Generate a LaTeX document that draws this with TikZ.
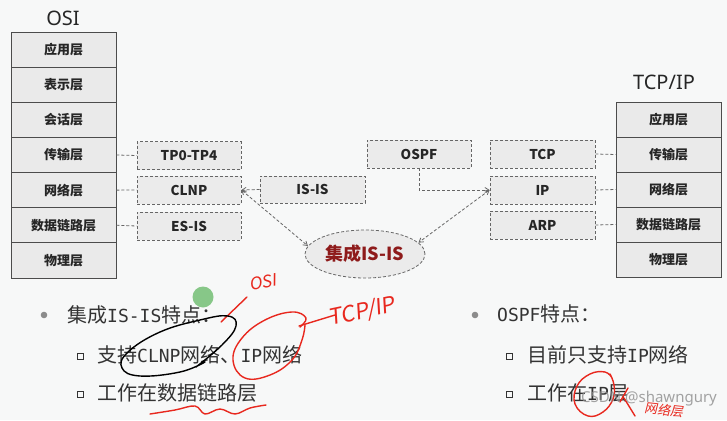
\documentclass[tikz,border=0pt]{standalone}
\usepackage{fontspec}
\usetikzlibrary{arrows.meta,shapes.geometric}
\newfontfamily\cjk{Noto Sans CJK SC}
\newfontfamily\lat{Noto Sans}
\newfontfamily\mono{DejaVu Sans Mono}
\newfontfamily\hand[FakeSlant=0.15]{Noto Sans CJK SC}
\newcommand\fs[1]{\fontsize{#1}{#1}\selectfont}
\newcommand\M[1]{{\mono\fontsize{18}{20}\selectfont #1}}
\definecolor{bg}{HTML}{F7F8F8}
\definecolor{cellfill}{HTML}{EAEAEA}
\definecolor{protofill}{HTML}{EBEBEB}
\definecolor{dred}{HTML}{8E1B1B}
\definecolor{pen}{HTML}{E8281E}
\definecolor{txt}{HTML}{333333}
\tikzset{
  layer/.style={draw=black!70, fill=cellfill, minimum width=105pt, minimum height=35.14pt,
    inner sep=0pt, line width=0.8pt, font=\cjk\bfseries\fs{13}, text=black!85},
  proto/.style={draw=black!60, fill=protofill, dash pattern=on 3pt off 2pt, line width=0.8pt,
    minimum width=104pt, minimum height=28pt, inner sep=0pt, font=\cjk\bfseries\fs{13.5}, text=black!85},
  link/.style={draw=black!60, dash pattern=on 3pt off 2pt, line width=0.8pt},
  arr/.style={link, -{Straight Barb[length=4pt,width=5pt]}},
  darr/.style={link, {Straight Barb[length=4pt,width=5pt]}-{Straight Barb[length=4pt,width=5pt]}},
  head/.style={font=\lat\fs{20}, text=black!85},
  bullettext/.style={anchor=west, inner sep=0pt, font=\cjk\fs{20}, text=txt},
  sq/.style={draw=txt, line width=1pt, minimum size=6pt, inner sep=0pt},
  ink/.style={draw=pen, line width=1.4pt, line cap=round, line join=round}
}
\begin{document}
\begin{tikzpicture}[x=1pt,y=-1pt]
\fill[bg] (0,0) rectangle (727,420);
\useasboundingbox (0,0) rectangle (727,420);

% OSI stack
\node[head] (osih) at (63,18) {OSI};
\foreach \t [count=\i] in {应用层,表示层,会话层,传输层,网络层,数据链路层,物理层}
  \node[layer] (o\i) at (63.5,{32+35.14*(\i-0.5)}) {\t};

% TCP/IP stack
\node[head] (tcpiph) at (664,82) {TCP/IP};
\foreach \t [count=\i] in {应用层,传输层,网络层,数据链路层,物理层}
  \node[layer] (t\i) at (668.5,{102+35*(\i-0.5)}) {\t};

% left protocol boxes
\node[proto] (tp) at (189,155.5) {TP0-TP4};
\node[proto] (clnp) at (189,190) {CLNP};
\node[proto] (esis) at (189,226) {ES-IS};
% right protocol boxes
\node[proto, minimum width=105pt] (tcp) at (542.5,154) {TCP};
\node[proto, minimum width=105pt] (ip) at (542.5,190) {IP};
\node[proto, minimum width=105pt] (arp) at (542.5,225) {ARP};
% middle
\node[proto, minimum width=105pt, minimum height=27pt] (isis) at (312.5,189.5) {IS-IS};
\node[proto] (ospf) at (419,154) {OSPF};
\node[ellipse, draw=black!60, fill=protofill, dash pattern=on 3pt off 2pt, line width=0.8pt,
  minimum width=120pt, minimum height=48pt, inner sep=0pt, font=\cjk\bfseries\fs{18}, text=dred] (ell) at (365,254) {集成IS-IS};

% connectors
\draw[link] (o4.east) -- (tp.west);
\draw[link] (o5.east) -- (clnp.west);
\draw[link] (o6.east) -- (esis.west);
\draw[link] (tcp.east) -- (t2.west);
\draw[link] (ip.east) -- (t3.west);
\draw[link] (arp.east) -- (t4.west);
\draw[arr] (isis.west) -- (clnp.east);
\draw[arr] (ospf.south) |- (ip.west);
\draw[darr] (clnp.east) -- (ell.172);
\draw[darr] (ip.west) -- (ell.12);

% bottom text
\fill[black!45] (44,315) circle (3.3pt);
\node[bullettext] (b1) at (67,315) {集成\M{IS-IS}特点：};
\node[sq] (s1) at (80,356) {};
\node[bullettext] (b1a) at (97,355) {支持\M{CLNP}网络、\M{IP}网络};
\node[sq] (s2) at (80,394) {};
\node[bullettext] (b1b) at (97,393) {工作在数据链路层};

\fill[black!45] (475,315) circle (3.3pt);
\node[bullettext] (b2) at (497,314) {\M{OSPF}特点：};
\node[sq] (s3) at (509,356) {};
\node[bullettext] (b2a) at (527,355) {目前只支持\M{IP}网络};
\node[sq] (s4) at (509,394) {};
\node[bullettext] (b2b) at (527,393) {工作在\M{IP}层};

% cursor highlight
\fill[green!55!black, opacity=0.45] (203,297) circle (10.5pt);

% handwritten annotations
\node[font=\hand\fs{17}, text=pen, rotate=8] (aosi) at (263,282) {OSI};
\draw[ink] (247,297) -- (221,322);
\draw[draw=black, line width=1.4pt, line cap=round] plot[smooth, tension=0.7] coordinates
  {(196,367) (222,345) (236,326) (228,316) (200,320) (160,332) (128,352) (122,368) (140,376) (180,372) (205,362)};
\draw[ink] plot[smooth, tension=0.7] coordinates
  {(300,327) (306,318) (292,312) (265,320) (242,338) (233,360) (245,378) (270,375) (292,360) (302,340) (305,325)};
\draw[ink] (299,326) -- (335,315);
\node[font=\hand\fs{22}, text=pen, rotate=12] (atcp) at (362,312) {TCP/IP};
\draw[ink] plot[smooth, tension=0.6] coordinates
  {(150,414) (175,410) (195,406) (205,414) (220,409) (235,414) (250,408) (266,405)};
\draw[ink] plot[smooth, tension=0.7] coordinates
  {(612,378) (605,372) (590,374) (577,386) (575,404) (588,416) (603,412) (613,399) (614,385) (610,374)};
\draw[ink] (620,402) -- (628,388) (624,398) -- (635,416);
\node[font=\hand\fs{13}, text=pen, rotate=-6] (anet) at (664,410) {网络层};

% watermark
\node[font=\lat\fs{15}, text=black!45, opacity=0.8] (wm) at (649,399) {CSDN @shawngury};
\end{tikzpicture}
\end{document}
